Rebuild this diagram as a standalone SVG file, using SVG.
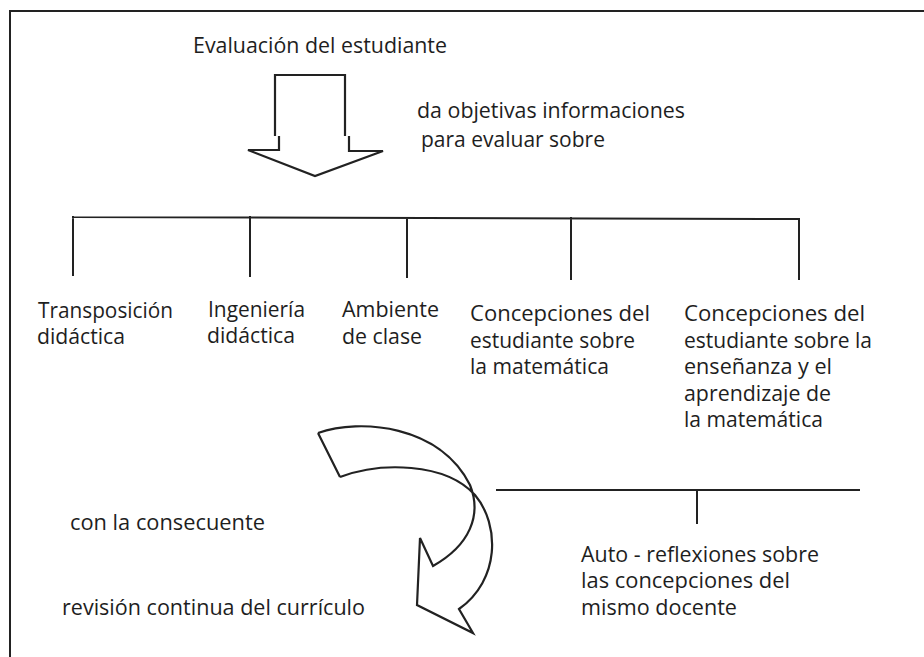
<svg xmlns="http://www.w3.org/2000/svg" width="924" height="657" viewBox="0 0 924 657">
<style>
text{font-family:"Open Sans","Noto Sans","Liberation Sans",sans-serif;font-size:21px;fill:#1e1e1e;}
.ln{stroke:#222;stroke-width:2;fill:none;stroke-linecap:square}
.shape{stroke:#222;stroke-width:2.2;fill:none;stroke-linejoin:miter}
</style>
<rect width="924" height="657" fill="#fff"/>
<g id="frame">
<path class="ln" d="M10,11 H924 M10,11 V657"/>
</g>
<g id="n-evaluacion">
<text x="193" y="53" textLength="254" lengthAdjust="spacingAndGlyphs">Evaluación del estudiante</text>
</g>
<g id="n-da-objetivas">
<text x="417" y="118" textLength="268" lengthAdjust="spacingAndGlyphs">da objetivas informaciones</text>
<text x="421" y="147" textLength="184" lengthAdjust="spacingAndGlyphs">para evaluar sobre</text>
</g>
<g id="n-transposicion">
<text x="38" y="318" textLength="135" lengthAdjust="spacingAndGlyphs">Transposición</text>
<text x="37" y="344" textLength="88" lengthAdjust="spacingAndGlyphs">didáctica</text>
</g>
<g id="n-ingenieria">
<text x="208" y="317" textLength="97" lengthAdjust="spacingAndGlyphs">Ingeniería</text>
<text x="207" y="343" textLength="88" lengthAdjust="spacingAndGlyphs">didáctica</text>
</g>
<g id="n-ambiente">
<text x="342" y="317" textLength="97" lengthAdjust="spacingAndGlyphs">Ambiente</text>
<text x="342" y="344" textLength="80" lengthAdjust="spacingAndGlyphs">de clase</text>
</g>
<g id="n-concepciones-matematica">
<text x="470" y="321" textLength="180" lengthAdjust="spacingAndGlyphs">Concepciones del</text>
<text x="470" y="348" textLength="165" lengthAdjust="spacingAndGlyphs">estudiante sobre</text>
<text x="470" y="374" textLength="139" lengthAdjust="spacingAndGlyphs">la matemática</text>
</g>
<g id="n-concepciones-ensenanza">
<text x="684" y="321" textLength="181" lengthAdjust="spacingAndGlyphs">Concepciones del</text>
<text x="684" y="348" textLength="188" lengthAdjust="spacingAndGlyphs">estudiante sobre la</text>
<text x="684" y="374" textLength="148" lengthAdjust="spacingAndGlyphs">enseñanza y el</text>
<text x="684" y="401" textLength="147" lengthAdjust="spacingAndGlyphs">aprendizaje de</text>
<text x="684" y="427" textLength="139" lengthAdjust="spacingAndGlyphs">la matemática</text>
</g>
<g id="n-auto-reflexiones">
<text x="581" y="562" textLength="238" lengthAdjust="spacingAndGlyphs">Auto - reflexiones sobre</text>
<text x="581" y="588" textLength="209" lengthAdjust="spacingAndGlyphs">las concepciones del</text>
<text x="581" y="615" textLength="156" lengthAdjust="spacingAndGlyphs">mismo docente</text>
</g>
<g id="n-con-la-consecuente">
<text x="70" y="530" textLength="195" lengthAdjust="spacingAndGlyphs">con la consecuente</text>
</g>
<g id="n-revision">
<text x="62" y="615" textLength="303" lengthAdjust="spacingAndGlyphs">revisión continua del currículo</text>
</g>
<g id="connectors">
<path class="shape" d="M275,136 V75 H345 V136 M349,136 V151 H383 L315,176 L248,150 H279 V136"/>
<path class="ln" d="M73,217 L799,219 M73,217 V275 M250,217 V276 M407,218 V277 M571,218 V279 M799,219 V279"/>
<path class="ln" d="M497,490 H859 M697,490 V523"/>
<path class="shape" d="M318,433 L340,477 M318,433 C360,418 440,425 470,485 C482,515 470,545 433,566 L420,538 L417,605 L473,633 L459,609 C500,580 500,525 475,495 C445,462 380,462 340,477"/>
</g>
</svg>
